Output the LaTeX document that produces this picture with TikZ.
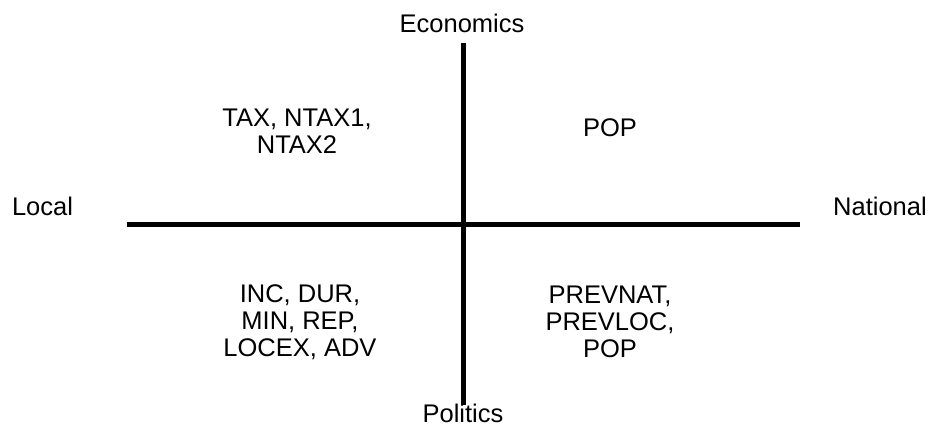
\documentclass[tikz,border=0pt]{standalone}
\usepackage{fontspec}
\setmainfont{Liberation Sans}
\begin{document}
\begin{tikzpicture}[x=1pt,y=-1pt,
  axis/.style={line width=5.5pt},
  lbl/.style={font=\fontsize{25.5}{26.8}\selectfont, inner sep=0pt, anchor=base},
  quad/.style={font=\fontsize{25.5}{26.8}\selectfont, inner sep=0pt, align=center, anchor=center}]
\useasboundingbox (0,0) rectangle (930,427);
\coordinate (top) at (463.5,43);
\coordinate (bot) at (463.5,405);
\coordinate (left) at (127,224.5);
\coordinate (right) at (800,224.5);
\draw[axis] (top) -- (bot);
\draw[axis] (left) -- (right);
\node[lbl] (econ) at (462,33) {Economics};
\node[lbl] (pol) at (463,423) {Politics};
\node[lbl] (loc) at (42.5,216) {Local};
\node[lbl] (nat) at (880,216) {National};
\node[quad] (q1) at (297,131) {TAX, NTAX1,\\NTAX2};
\node[quad] (q2) at (610,128) {POP};
\node[quad] (q3) at (300,322) {INC, DUR,\\MIN, REP,\\LOCEX, ADV};
\node[quad] (q4) at (610,322) {PREVNAT,\\PREVLOC,\\POP};
\end{tikzpicture}
\end{document}
